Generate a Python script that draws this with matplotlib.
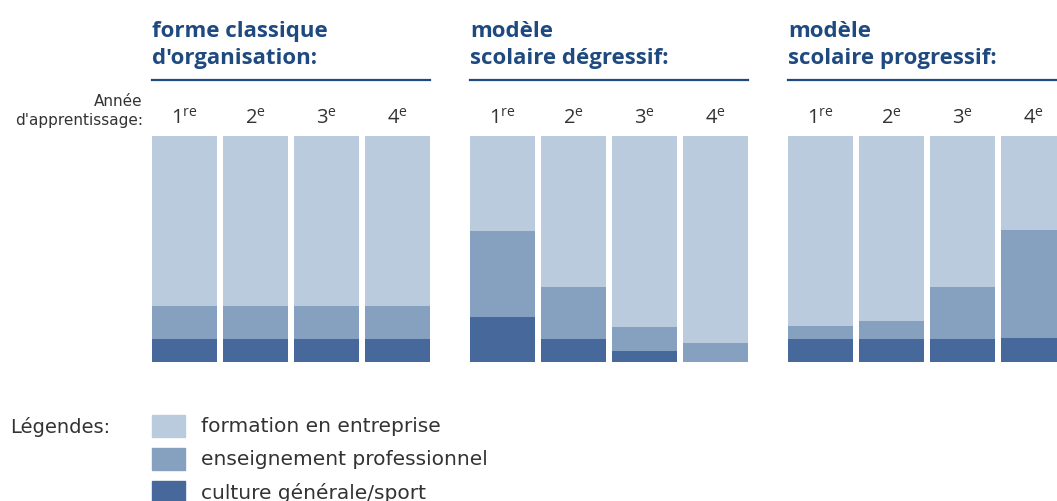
import matplotlib
matplotlib.use("Agg")
import matplotlib.pyplot as plt
import numpy as np
from matplotlib.patches import Rectangle

plt.rcParams['font.family'] = ['Open Sans', 'DejaVu Sans']

# share of each lesson type per apprenticeship year (percent of bar height)
years = ["1", "2", "3", "4"]
year_sup = ["re", "e", "e", "e"]
titles = ["forme classique\nd'organisation:",
          "modèle\nscolaire dégressif:",
          "modèle\nscolaire progressif:"]
culture = [[10, 10, 10, 10],
           [20, 10, 5, 0],
           [10, 10, 10, 10.5]]
professionnel = [[15, 15, 15, 15],
                 [38, 23, 10.5, 8.5],
                 [6, 8, 23, 48]]
legend_labels = ["formation en entreprise", "enseignement professionnel",
                 "culture générale/sport"]

c_light = "#b9cbdc"
c_mid = "#86a0c0"
c_dark = "#46689a"
c_title = "#1f4a80"
c_text = "#333333"
wide = ['DejaVu Sans']

W, H = 1057, 502
fig = plt.figure(figsize=(W / 100, H / 100), dpi=100)

bar_w = 65 / 71
span = 3 + bar_w
group_left = [152, 470, 788]
axes_w = span * 71

for g in range(3):
    left = group_left[g]
    ax = fig.add_axes([left / W, (H - 363) / H, axes_w / W, 226 / H])
    x = np.arange(4)
    cul = np.array(culture[g])
    pro = np.array(professionnel[g])
    ent = 100 - cul - pro
    ax.bar(x, cul, width=bar_w, color=c_dark)
    ax.bar(x, pro, width=bar_w, bottom=cul, color=c_mid)
    ax.bar(x, ent, width=bar_w, bottom=cul + pro, color=c_light)
    ax.set_xlim(-bar_w / 2, 3 + bar_w / 2)
    ax.set_ylim(0, 100)
    ax.axis("off")

    # year labels above the bars
    for i in range(4):
        ax.text(x[i], 1.08, f"{years[i]}$^{{\\mathregular{{{year_sup[i]}}}}}$",
                transform=ax.get_xaxis_transform(), ha="center", va="center",
                fontsize=14.5, color=c_text)

    # title and rule
    fig.text(left / W, 1 - 45 / H, titles[g], ha="left", va="center",
             fontsize=16, fontweight="bold", color=c_title, linespacing=1.38)
    fig.add_artist(plt.Line2D([left / W, (left + axes_w) / W],
                              [1 - 81 / H, 1 - 81 / H],
                              color=c_title, lw=1.6))

fig.text(143 / W, 1 - 111 / H, "Année\nd'apprentissage:", ha="right",
         va="center", fontsize=11, color=c_text, linespacing=1.25,
         family=wide)

# legend
fig.text(10 / W, 1 - 427 / H, "Légendes:", ha="left", va="center",
         fontsize=14, color=c_text, family=wide)
for i, (lab, col) in enumerate(zip(legend_labels, [c_light, c_mid, c_dark])):
    yc = 427 + 33 * i
    fig.add_artist(Rectangle((152 / W, 1 - (yc + 11) / H), 33 / W, 22 / H,
                             transform=fig.transFigure, color=col))
    fig.text(201 / W, 1 - yc / H, lab, ha="left", va="center",
             fontsize=14.5, color=c_text, family=wide)

fig.savefig("out.png", dpi=100)
